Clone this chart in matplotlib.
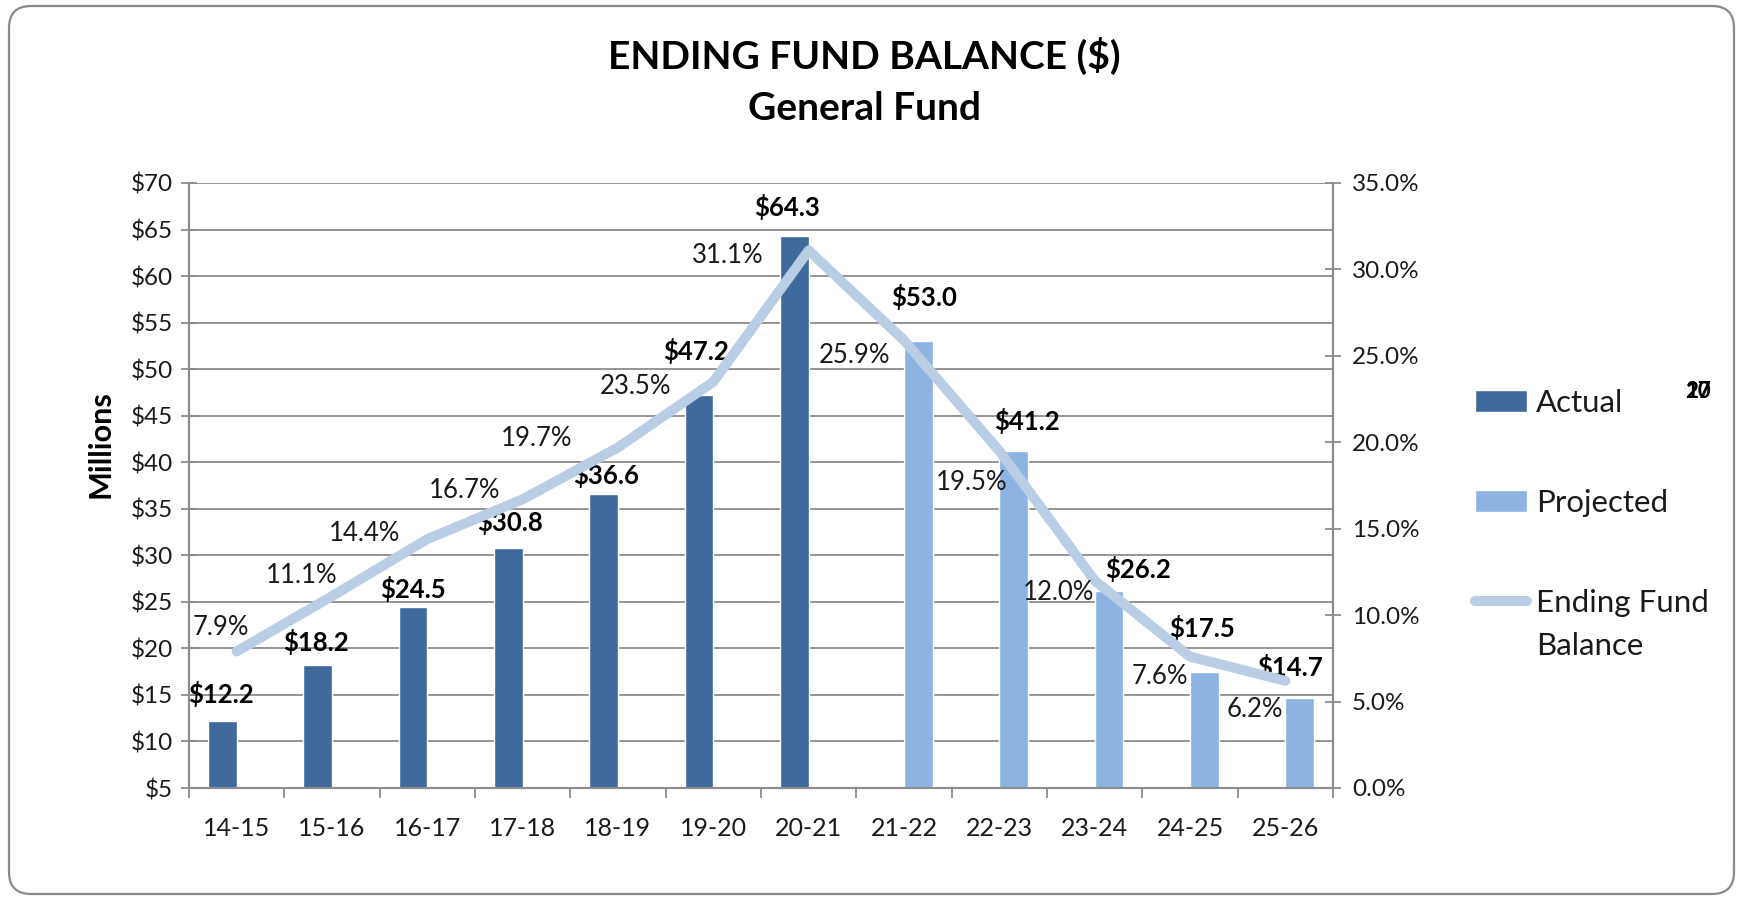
import matplotlib
matplotlib.use("Agg")
import matplotlib.pyplot as plt
import numpy as np
from matplotlib.patches import FancyBboxPatch
from matplotlib.ticker import FuncFormatter, MultipleLocator, FixedLocator

# ---------------- data ----------------
years = ['14-15', '15-16', '16-17', '17-18', '18-19', '19-20', '20-21',
         '21-22', '22-23', '23-24', '24-25', '25-26']
balances = [12.2, 18.2, 24.5, 30.8, 36.6, 47.2, 64.3, 53.0, 41.2, 26.2, 17.5, 14.7]
status = ['Actual'] * 7 + ['Projected'] * 5
pct_balance = [7.9, 11.1, 14.4, 16.7, 19.7, 23.5, 31.1, 25.9, 19.5, 12.0, 7.6, 6.2]

# label placement (pixel offsets, layout only)
bal_lbl_off = [(-1, 27), (-2, 23), (0, 17), (2, 26), (2, 19), (-3, 44), (-7, 29),
               (6, 44), (13, 30), (29, 22), (-2, 44), (-10, 31)]
pct_lbl_off = [(-16, 24), (-30, 21), (-63, 6), (-58, 9), (-81, 9), (-78, -5), (-81, -5),
               (-50, -15), (-28, -32), (-36, -12), (-30, -20), (-30, -29)]

plt.rcParams['font.family'] = ['Lato', 'DejaVu Sans']

C_ACT = '#40699C'
C_PROJ = '#8DB3E2'
C_LINE = '#B9CDE5'
C_GRID = '#8C8C8C'
C_TXT = '#1a1a1a'

W, H = 1741, 899
fig = plt.figure(figsize=(W / 100, H / 100), dpi=100)
fig.patch.set_facecolor('white')

# rounded frame
frame = FancyBboxPatch((9 / 100, 5 / 100), (1734 - 9) / 100, (894 - 6) / 100,
                       boxstyle="round,pad=0,rounding_size=0.22",
                       transform=fig.dpi_scale_trans, facecolor='none',
                       edgecolor='#8A8A8A', linewidth=1.6)
fig.add_artist(frame)

ax = fig.add_axes([189 / W, 1 - 788 / H, (1333 - 189) / W, (788 - 183) / H])
x = np.arange(len(years))
bw = 0.30
act_idx = [i for i, s in enumerate(status) if s == 'Actual']
proj_idx = [i for i, s in enumerate(status) if s == 'Projected']

bars_a = ax.bar(x[act_idx] - bw / 2, [balances[i] for i in act_idx], width=bw,
                color=C_ACT, edgecolor='white', linewidth=1.0, zorder=3, label='Actual')
bars_p = ax.bar(x[proj_idx] + bw / 2, [balances[i] for i in proj_idx], width=bw,
                color=C_PROJ, edgecolor='white', linewidth=1.0, zorder=3, label='Projected')

ax.set_xlim(-0.5, len(years) - 0.5)
ax.set_ylim(5, 70)
ax.yaxis.set_major_locator(MultipleLocator(5))
ax.yaxis.set_major_formatter(FuncFormatter(lambda v, p: f'${v:.0f}'))
ax.grid(axis='y', color=C_GRID, linewidth=1.3, zorder=0)
ax.set_axisbelow(True)

ax.set_xticks(x)
ax.set_xticklabels(years)
ax.xaxis.set_minor_locator(FixedLocator(np.arange(-0.5, len(years), 1.0)))
ax.tick_params(axis='x', which='major', length=0, pad=21, labelsize=18, labelcolor=C_TXT)
ax.tick_params(axis='x', which='minor', length=7, width=1.3, color=C_GRID, direction='out')
ax.tick_params(axis='y', which='major', length=11, width=1.3, color=C_GRID, direction='inout',
               labelsize=17.5, labelcolor=C_TXT, pad=6)

ax.spines['top'].set_visible(False)
for sp in ['left', 'bottom', 'right']:
    ax.spines[sp].set_color(C_GRID)
    ax.spines[sp].set_linewidth(1.5)

# secondary axis with percentage line
ax2 = ax.twinx()
ax2.set_ylim(0, 0.35)
ax2.yaxis.set_major_locator(MultipleLocator(0.05))
ax2.yaxis.set_major_formatter(FuncFormatter(lambda v, p: f'{v * 100:.1f}%'))
ax2.tick_params(axis='y', length=11, width=1.3, color=C_GRID, direction='inout',
                labelsize=17.5, labelcolor=C_TXT, pad=8)
ax2.spines['top'].set_visible(False)
for sp in ['left', 'bottom', 'right']:
    ax2.spines[sp].set_color(C_GRID)
    ax2.spines[sp].set_linewidth(1.5)

line, = ax2.plot(x, [p / 100 for p in pct_balance], color=C_LINE, linewidth=7.2,
                 solid_capstyle='round', solid_joinstyle='round', zorder=5,
                 label='Ending Fund\nBalance')

# data labels for balances
bar_x = [i - bw / 2 if s == 'Actual' else i + bw / 2 for i, s in enumerate(status)]
for i, v in enumerate(balances):
    dx, dy = bal_lbl_off[i]
    ax.annotate(f'${v:.1f}', xy=(bar_x[i], v), xytext=(dx, dy), textcoords='offset pixels',
                ha='center', va='center', fontsize=18.5, fontweight='bold', color='black',
                zorder=6, annotation_clip=False)

for i, p in enumerate(pct_balance):
    dx, dy = pct_lbl_off[i]
    ax2.annotate(f'{p:.1f}%', xy=(x[i], p / 100), xytext=(dx, dy), textcoords='offset pixels',
                 ha='center', va='center', fontsize=18.5, color=C_TXT, zorder=6,
                 annotation_clip=False)

# titles
fig.text(0.4965, 1 - 56 / H, 'ENDING FUND BALANCE ($)', ha='center', va='center',
         fontsize=28, fontweight='bold', color='black')
fig.text(0.4965, 1 - 109 / H, 'General Fund', ha='center', va='center',
         fontsize=28, fontweight='bold', color='black')
fig.text(100 / W, 1 - 444 / H, 'Millions', rotation=90, ha='center', va='center',
         fontsize=22, fontweight='bold', color='black')

# legend
leg = fig.legend(handles=[bars_a, bars_p, line],
                 labels=['Actual', 'Projected', 'Ending Fund\nBalance'],
                 loc='upper left', bbox_to_anchor=(1475 / W, 1 - 389 / H),
                 bbox_transform=fig.transFigure, frameon=False, fontsize=22.5,
                 borderpad=0, borderaxespad=0, handlelength=1.65, handletextpad=0.3,
                 labelspacing=2.3)
for t in leg.get_texts():
    t.set_linespacing(1.65)
    t.set_color(C_TXT)
# align the line handle with the first line of its two-line label
lh = leg.legend_handles[2]
lh.set_ydata(np.asarray(lh.get_ydata()) + 17)

# stray overlapping text at the right edge
fig.text(1698 / W, 1 - 391 / H, '20', ha='center', va='center', fontsize=16,
         fontweight='bold', color='black')
fig.text(1698 / W, 1 - 391 / H, '17', ha='center', va='center', fontsize=16,
         fontweight='bold', color='black')

fig.savefig('out.png', dpi=100)
